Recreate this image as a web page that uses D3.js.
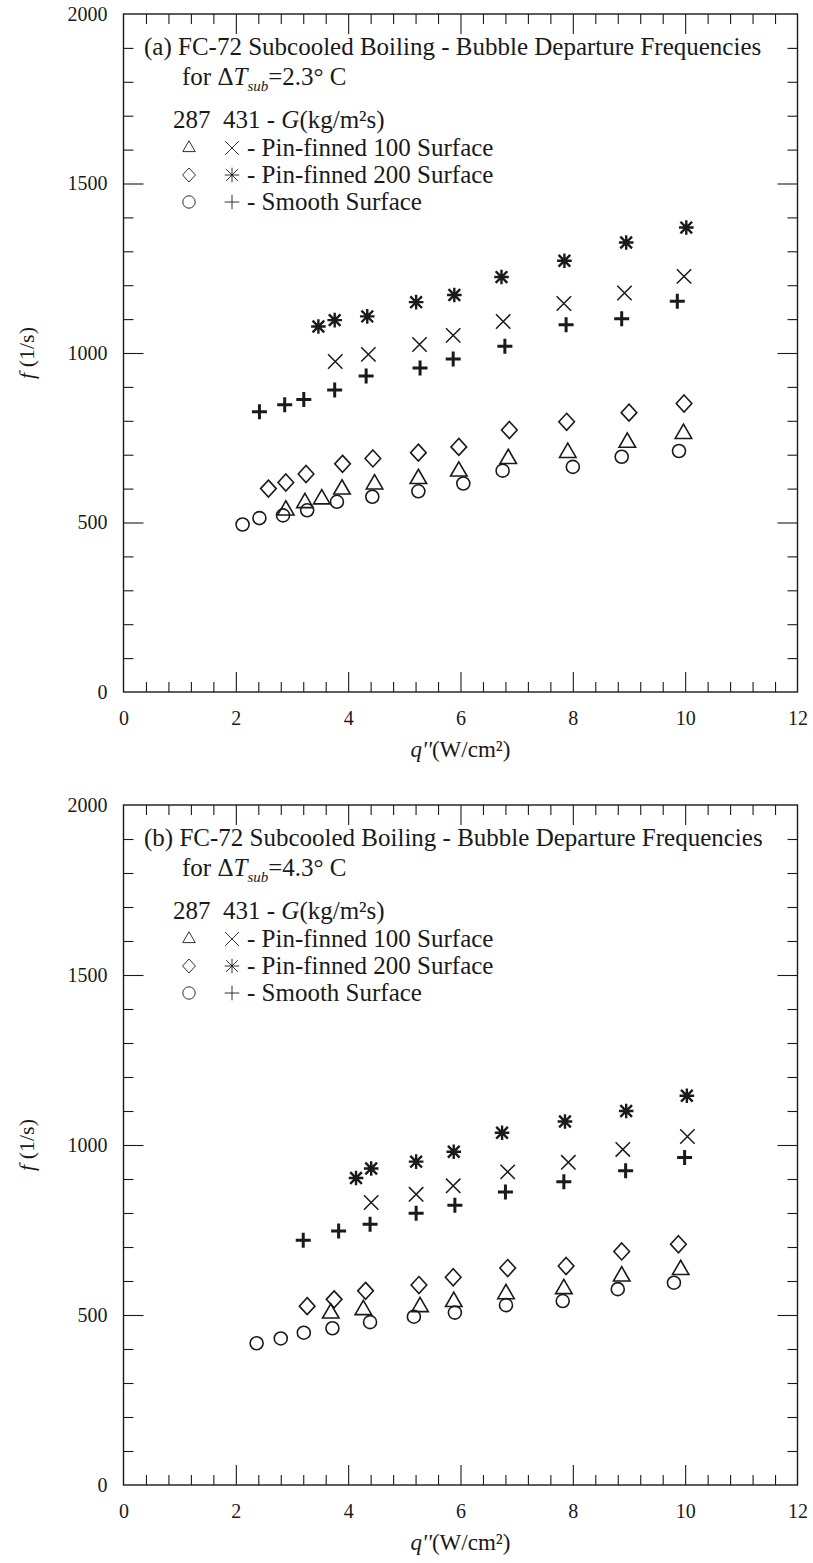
<!DOCTYPE html>
<html>
<head>
<meta charset="utf-8">
<script src="https://cdn.jsdelivr.net/npm/d3@7"></script>
<style>
  html, body { margin: 0; padding: 0; background: #fff; }
  svg { display: block; }
  text { font-family: "Liberation Serif", "Times New Roman", serif; fill: #1a1a1a; }
</style>
</head>
<body>
<script>
// Heat flux q'' (W/cm^2) vs bubble departure frequency f (1/s), [q, f] pairs.

// (a) dT_sub = 2.3 C
const pin100G287A = [[2.89,536],[3.23,558],[3.53,569],[3.89,598],[4.47,613],[5.25,629],[5.97,651],[6.85,688],[7.91,706],[8.97,736],[9.97,762]];
const pin100G431A = [[3.77,975],[4.36,996],[5.27,1025],[5.87,1052],[6.76,1093],[7.84,1146],[8.92,1177],[9.98,1226]];
const pin200G287A = [[2.58,600],[2.89,618],[3.25,643],[3.90,673],[4.44,689],[5.25,706],[5.97,723],[6.87,773],[7.89,797],[9.00,824],[9.98,851]];
const pin200G431A = [[3.47,1078],[3.76,1097],[4.34,1108],[5.21,1150],[5.89,1171],[6.73,1224],[7.85,1272],[8.95,1326],[10.02,1370]];
const smoothG287A = [[2.12,494],[2.42,513],[2.84,521],[3.27,536],[3.80,561],[4.43,576],[5.25,592],[6.05,615],[6.75,653],[8.00,664],[8.87,694],[9.89,711]];
const smoothG431A = [[2.42,827],[2.87,847],[3.21,863],[3.76,891],[4.32,932],[5.28,956],[5.87,982],[6.79,1020],[7.88,1083],[8.87,1101],[9.86,1153]];

// (b) dT_sub = 4.3 C
const pin100G287B = [[3.69,505],[4.27,515],[5.28,524],[5.88,539],[6.81,562],[7.84,577],[8.87,614],[9.92,633]];
const pin100G431B = [[4.41,831],[5.21,855],[5.87,880],[6.84,921],[7.92,949],[8.89,987],[10.04,1025]];
const pin200G287B = [[3.27,526],[3.75,546],[4.31,571],[5.26,588],[5.87,611],[6.84,638],[7.88,644],[8.87,687],[9.88,708]];
const pin200G431B = [[4.14,903],[4.41,931],[5.21,951],[5.88,980],[6.74,1036],[7.86,1069],[8.95,1100],[10.03,1145]];
const smoothG287B = [[2.37,417],[2.80,431],[3.21,448],[3.72,461],[4.39,479],[5.17,495],[5.90,507],[6.81,529],[7.82,541],[8.80,576],[9.80,595]];
const smoothG431B = [[3.20,720],[3.83,747],[4.39,767],[5.21,799],[5.90,823],[6.80,862],[7.84,892],[8.94,924],[9.99,963]];

const xTickLabels = [0, 2, 4, 6, 8, 10, 12];
const yTickLabels = [0, 500, 1000, 1500, 2000];
const massFluxes = ["287", "431"];
const surfaces = ["Pin-finned 100 Surface", "Pin-finned 200 Surface", "Smooth Surface"];
const panelTags = ["(a)", "(b)"];
const subcoolings = ["2.3", "4.3"];

const INK = "#1a1a1a";
const FS = 25;

// custom marker shapes for d3.symbol
const shapes = {
  triangle: { draw(ctx, s) { const h = s * 0.866; ctx.moveTo(0, -h * 2 / 3); ctx.lineTo(s / 2, h / 3); ctx.lineTo(-s / 2, h / 3); ctx.closePath(); } },
  diamond: { draw(ctx, s) { ctx.moveTo(0, -s); ctx.lineTo(s * 0.92, 0); ctx.lineTo(0, s); ctx.lineTo(-s * 0.92, 0); ctx.closePath(); } },
  circle: { draw(ctx, s) { ctx.moveTo(s, 0); ctx.arc(0, 0, s, 0, 2 * Math.PI); } },
  cross: { draw(ctx, s) { ctx.moveTo(-s, -s); ctx.lineTo(s, s); ctx.moveTo(-s, s); ctx.lineTo(s, -s); } },
  plus: { draw(ctx, s) { ctx.moveTo(-s, 0); ctx.lineTo(s, 0); ctx.moveTo(0, -s); ctx.lineTo(0, s); } },
  star: { draw(ctx, s) {
    ctx.moveTo(0, -s); ctx.lineTo(0, s);
    ctx.moveTo(-s, 0); ctx.lineTo(s, 0);
    const d = s * 0.8;
    ctx.moveTo(-d, -d); ctx.lineTo(d, d);
    ctx.moveTo(-d, d); ctx.lineTo(d, -d);
  } }
};

const markerStyle = {
  triangle: { size: 16.5, sw: 1.6 },
  diamond: { size: 8.5, sw: 1.6 },
  circle: { size: 6.5, sw: 1.6 },
  cross: { size: 7.2, sw: 1.5 },
  plus: { size: 7.5, sw: 3 },
  star: { size: 7.3, sw: 2.4 }
};
const legendStyle = {
  triangle: { size: 12.5, sw: 0.9 },
  diamond: { size: 7, sw: 0.9 },
  circle: { size: 6.2, sw: 0.9 },
  cross: { size: 6.8, sw: 0.9 },
  plus: { size: 7.3, sw: 0.9 },
  star: { size: 7.3, sw: 0.9 }
};

const panels = [
  { top: 14, bottom: 692, series: [
      [pin100G287A, "triangle"], [pin100G431A, "cross"],
      [pin200G287A, "diamond"], [pin200G431A, "star"],
      [smoothG287A, "circle"], [smoothG431A, "plus"] ] },
  { top: 805, bottom: 1485, series: [
      [pin100G287B, "triangle"], [pin100G431B, "cross"],
      [pin200G287B, "diamond"], [pin200G431B, "star"],
      [smoothG287B, "circle"], [smoothG431B, "plus"] ] }
];

const svg = d3.select("body").append("svg").attr("width", 813).attr("height", 1563);

const X0 = 123.5, X1 = 797.5;
const x = d3.scaleLinear().domain([0, 12]).range([X0, X1]);

const majorX = [2, 4, 6, 8, 10];
const minorX = d3.range(1, 30).map(i => +(i * 0.4).toFixed(1)).filter(v => Math.abs(v / 2 - Math.round(v / 2)) > 1e-6);
const majorY = [500, 1000, 1500];
const minorY = d3.range(100, 2000, 100).filter(v => v % 500 !== 0);

function cleanAxis(sel) {
  sel.select(".domain").remove();
  sel.selectAll(".tick line").attr("stroke", INK).attr("stroke-width", 1.1);
}

function marker(type, style) {
  return d3.symbol().type(shapes[type]).size(style[type].size)();
}

panels.forEach((p, pi) => {
  const y = d3.scaleLinear().domain([0, 2000]).range([p.bottom, p.top]);
  const g = svg.append("g");

  // inward tick marks on all four sides
  [[majorX, 20], [minorX, 10]].forEach(([vals, len]) => {
    g.append("g").attr("transform", `translate(0,${p.bottom})`)
      .call(d3.axisBottom(x).tickValues(vals).tickSize(-len).tickFormat("")).call(cleanAxis);
    g.append("g").attr("transform", `translate(0,${p.top})`)
      .call(d3.axisTop(x).tickValues(vals).tickSize(-len).tickFormat("")).call(cleanAxis);
  });
  [[majorY, 20], [minorY, 10]].forEach(([vals, len]) => {
    g.append("g").attr("transform", `translate(${X0},0)`)
      .call(d3.axisLeft(y).tickValues(vals).tickSize(-len).tickFormat("")).call(cleanAxis);
    g.append("g").attr("transform", `translate(${X1},0)`)
      .call(d3.axisRight(y).tickValues(vals).tickSize(-len).tickFormat("")).call(cleanAxis);
  });

  // frame
  g.append("rect").attr("x", X0).attr("y", p.top).attr("width", X1 - X0).attr("height", p.bottom - p.top)
    .attr("fill", "none").attr("stroke", INK).attr("stroke-width", 1.4);

  // tick labels
  const xl = g.append("g").attr("transform", `translate(0,${p.bottom})`)
    .call(d3.axisBottom(x).tickValues(xTickLabels).tickSize(0).tickPadding(19).tickFormat(d3.format("d")));
  xl.select(".domain").remove();
  xl.attr("font-family", null).attr("font-size", null);
  xl.selectAll("text").attr("font-size", 20).attr("fill", INK);

  const yl = g.append("g").attr("transform", `translate(${X0},0)`)
    .call(d3.axisLeft(y).tickValues(yTickLabels).tickSize(0).tickPadding(16).tickFormat(d3.format("d")));
  yl.select(".domain").remove();
  yl.attr("font-family", null).attr("font-size", null);
  yl.selectAll("text").attr("font-size", 20).attr("fill", INK);

  // axis titles
  const yt = g.append("text").attr("transform", `translate(34,${y(1000)}) rotate(-90)`)
    .attr("text-anchor", "middle").attr("font-size", 22);
  yt.append("tspan").attr("font-style", "italic").text("f");
  yt.append("tspan").text(" (1/s)");

  const xt = g.append("text").attr("x", x(6)).attr("y", p.bottom + 65)
    .attr("text-anchor", "middle").attr("font-size", 23);
  xt.append("tspan").attr("font-style", "italic").text("q''");
  xt.append("tspan").text("(W/cm²)");

  // data markers
  p.series.forEach(([data, type]) => {
    g.append("g").selectAll("path").data(data).join("path")
      .attr("transform", d => `translate(${x(d[0])},${y(d[1])})`)
      .attr("d", marker(type, markerStyle))
      .attr("fill", "none").attr("stroke", INK)
      .attr("stroke-width", markerStyle[type].sw)
      .attr("stroke-linecap", "butt");
  });

  // heading and key
  const t0 = p.top;
  g.append("text").attr("x", 144).attr("y", t0 + 41).attr("font-size", FS)
    .text(`${panelTags[pi]} FC-72 Subcooled Boiling - Bubble Departure Frequencies`);

  const sub = g.append("text").attr("x", 182).attr("y", t0 + 71).attr("font-size", FS);
  sub.append("tspan").text("for Δ");
  sub.append("tspan").attr("font-style", "italic").text("T");
  sub.append("tspan").attr("font-style", "italic").attr("font-size", 15).attr("dy", 6).text("sub");
  sub.append("tspan").attr("dy", -6).text(`=${subcoolings[pi]}° C`);

  const hdr = g.append("text").attr("x", 173).attr("y", t0 + 114).attr("font-size", FS);
  hdr.append("tspan").text(`${massFluxes[0]}\u00A0\u00A0${massFluxes[1]} - `);
  hdr.append("tspan").attr("font-style", "italic").text("G");
  hdr.append("tspan").text("(kg/m²s)");

  const legendPairs = [["triangle", "cross"], ["diamond", "star"], ["circle", "plus"]];
  surfaces.forEach((s, i) => {
    const ly = t0 + 134 + i * 27;
    legendPairs[i].forEach((type, k) => {
      g.append("path")
        .attr("transform", `translate(${k === 0 ? 189 : 232},${ly})`)
        .attr("d", marker(type, legendStyle))
        .attr("fill", "none").attr("stroke", INK).attr("stroke-width", legendStyle[type].sw);
    });
    g.append("text").attr("x", 247).attr("y", ly + 8).attr("font-size", FS).text(`- ${s}`);
  });
});
</script>
</body>
</html>
